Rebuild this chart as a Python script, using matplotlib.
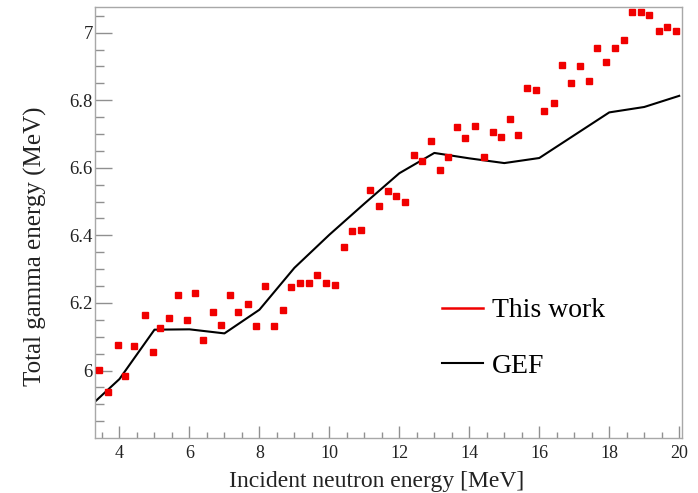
import matplotlib
matplotlib.use("Agg")
import matplotlib.pyplot as plt
from matplotlib.lines import Line2D
from matplotlib.ticker import MultipleLocator

plt.rcParams["font.family"] = ["Liberation Serif", "DejaVu Serif"]

# Measured total gamma energy versus incident neutron energy
energy_meas = [3.41, 3.67, 3.96, 4.15, 4.41, 4.74, 4.95, 5.16, 5.42, 5.67,
               5.93, 6.16, 6.38, 6.67, 6.90, 7.16, 7.40, 7.66, 7.91, 8.16,
               8.42, 8.67, 8.91, 9.17, 9.41, 9.66, 9.91, 10.15, 10.41, 10.65,
               10.91, 11.16, 11.41, 11.67, 11.91, 12.16, 12.41, 12.66, 12.91, 13.15,
               13.40, 13.66, 13.88, 14.16, 14.42, 14.67, 14.91, 15.15, 15.40, 15.66,
               15.90, 16.14, 16.41, 16.66, 16.91, 17.16, 17.41, 17.66, 17.91, 18.16,
               18.41, 18.65, 18.91, 19.15, 19.41, 19.65, 19.90]
egamma_meas = [6.001, 5.936, 6.076, 5.984, 6.073, 6.164, 6.056, 6.125, 6.157, 6.223,
               6.150, 6.230, 6.090, 6.174, 6.134, 6.223, 6.174, 6.198, 6.133, 6.250,
               6.133, 6.178, 6.246, 6.260, 6.260, 6.284, 6.260, 6.254, 6.367, 6.413,
               6.417, 6.535, 6.488, 6.531, 6.516, 6.500, 6.638, 6.620, 6.678, 6.593,
               6.632, 6.722, 6.688, 6.725, 6.632, 6.705, 6.690, 6.743, 6.697, 6.835,
               6.831, 6.767, 6.791, 6.904, 6.850, 6.900, 6.858, 6.956, 6.912, 6.956,
               6.977, 7.061, 7.061, 7.053, 7.004, 7.016, 7.004]

# GEF calculation
energy_gef = [3.3, 4, 5, 6, 7, 8, 9, 10, 11, 12, 13, 14, 15, 16, 18, 19, 20]
egamma_gef = [5.908, 5.975, 6.121, 6.122, 6.110, 6.180, 6.304, 6.402, 6.494,
              6.584, 6.644, 6.628, 6.614, 6.629, 6.764, 6.780, 6.813]

legend_labels = ["This work", "GEF"]

fig = plt.figure(figsize=(6.98, 4.93), dpi=100)
ax = fig.add_axes([0.1361, 0.1116, 0.8405, 0.8736])

ax.plot(energy_gef, egamma_gef, color="black", lw=1.5, zorder=2)
ax.plot(energy_meas, egamma_meas, ls="none", marker="s", ms=4.3,
        mfc="#f00000", mec="#f00000", zorder=3)

ax.set_xlim(3.3, 20.07)
ax.set_ylim(5.8005, 7.075)

ax.xaxis.set_major_locator(MultipleLocator(2))
ax.xaxis.set_minor_locator(MultipleLocator(0.5))
ax.yaxis.set_major_locator(MultipleLocator(0.2))
ax.yaxis.set_minor_locator(MultipleLocator(0.05))
ax.yaxis.set_major_formatter(plt.FuncFormatter(lambda v, p: f"{v:g}"))

for s in ax.spines.values():
    s.set_color("#a8a8a8")
    s.set_linewidth(1.0)

ax.tick_params(axis="both", which="both", direction="in", colors="#909090",
               labelcolor="#222222", top=False, right=False)
ax.tick_params(axis="y", which="major", length=12.2, width=1.0, pad=1.5,
               labelsize=13.5)
ax.tick_params(axis="y", which="minor", length=6.5, width=1.0)
ax.tick_params(axis="x", which="major", length=8.6, width=1.0, pad=5,
               labelsize=13)
ax.tick_params(axis="x", which="minor", length=4.3, width=1.0)

ax.set_xlabel("Incident neutron energy [MeV]", fontsize=17, color="#222222")
ax.xaxis.set_label_coords(0.48, -0.077)
ax.set_ylabel("Total gamma energy (MeV)", fontsize=18, color="#222222")
ax.yaxis.set_label_coords(-0.082, 0.445)

handles = [Line2D([], [], color="#f00000", lw=1.8),
           Line2D([], [], color="black", lw=1.5)]
ax.legend(handles, legend_labels, loc="upper left",
          bbox_to_anchor=(0.592, 0.325), frameon=False, fontsize=20,
          handlelength=1.45, handletextpad=0.35, labelspacing=1.07,
          borderaxespad=0, borderpad=0)

fig.savefig("out.png", dpi=100)
